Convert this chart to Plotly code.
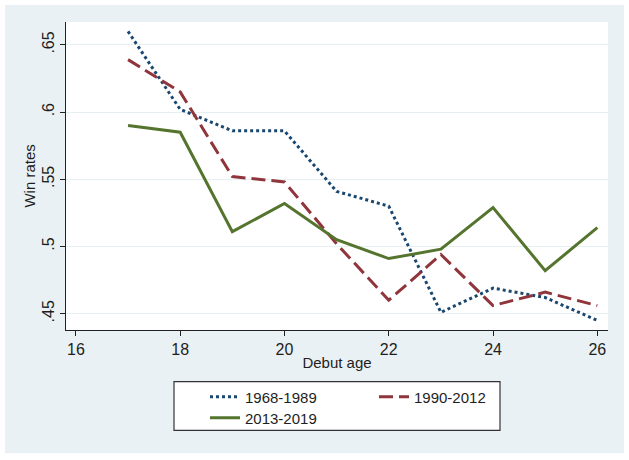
import plotly.graph_objects as go

# ---- data ----
debut_age = [17, 18, 19, 20, 21, 22, 23, 24, 25, 26]
win_1968_1989 = [0.660, 0.602, 0.586, 0.586, 0.541, 0.530, 0.451, 0.469, 0.462, 0.445]
win_1990_2012 = [0.639, 0.615, 0.552, 0.548, 0.502, 0.460, 0.494, 0.456, 0.466, 0.456]
win_2013_2019 = [0.590, 0.585, 0.511, 0.532, 0.505, 0.491, 0.498, 0.529, 0.482, 0.514]
series_names = ["1968-1989", "1990-2012", "2013-2019"]
y_tick_vals = [0.45, 0.50, 0.55, 0.60, 0.65]
y_tick_text = [".45", ".5", ".55", ".6", ".65"]
x_tick_vals = [16, 18, 20, 22, 24, 26]

NAVY = "#1a476f"
MAROON = "#90353b"
GREEN = "#55752f"
FRAME = "#eaf1f4"
GRID = "#e6eff2"
FONT = "Liberation Sans, Arial, sans-serif"
TXT = "#1e1e1e"

W, H = 629, 460
L, R, T, B = 66, 21, 22, 129

fig = go.Figure()
fig.add_trace(go.Scatter(x=debut_age, y=win_1968_1989, mode="lines", name=series_names[0],
                         line=dict(color=NAVY, width=3, dash="dot"), legend="legend"))
fig.add_trace(go.Scatter(x=debut_age, y=win_1990_2012, mode="lines", name=series_names[1],
                         line=dict(color=MAROON, width=3, dash="14px,6px"), legend="legend"))
fig.add_trace(go.Scatter(x=debut_age, y=win_2013_2019, mode="lines", name=series_names[2],
                         line=dict(color=GREEN, width=3), legend="legend2"))

pw = W - L - R
ph = H - T - B

def px_x(p):
    return (p - L) / pw

def px_y(p):
    return (H - B - p) / ph

shapes = [
    # white outer border around the light frame
    dict(type="rect", xref="paper", yref="paper", x0=px_x(0), x1=px_x(W), y0=px_y(H), y1=px_y(0),
         line=dict(color="white", width=10), fillcolor="rgba(0,0,0,0)", layer="above"),
    # legend box
    dict(type="rect", xref="paper", yref="paper", x0=px_x(174), x1=px_x(500), y0=px_y(432), y1=px_y(383),
         line=dict(color="#333333", width=1.2), fillcolor="white", layer="above"),
]

fig.update_layout(
    width=W, height=H,
    margin=dict(l=L, r=R, t=T, b=B, pad=0),
    paper_bgcolor=FRAME,
    plot_bgcolor="white",
    font=dict(family=FONT, size=15, color=TXT),
    shapes=shapes,
    showlegend=True,
    legend=dict(orientation="h", xref="container", yref="container",
                x=205 / W, xanchor="left", y=1 - 397 / H, yanchor="middle",
                bgcolor="rgba(0,0,0,0)", borderwidth=0, entrywidth=124, entrywidthmode="pixels",
                font=dict(family=FONT, size=15, color=TXT), itemwidth=30),
    legend2=dict(orientation="h", xref="container", yref="container",
                 x=205 / W, xanchor="left", y=1 - 418 / H, yanchor="middle",
                 bgcolor="rgba(0,0,0,0)", borderwidth=0,
                 font=dict(family=FONT, size=15, color=TXT), itemwidth=30),
    xaxis=dict(range=[15.81, 26.205], tickvals=x_tick_vals, ticks="outside", ticklen=5,
               tickcolor="#222222", showline=True, linecolor="#222222", linewidth=1,
               showgrid=False, zeroline=False, mirror=False,
               tickfont=dict(size=16),
               title=dict(text="Debut age", standoff=0, font=dict(size=15))),
    yaxis=dict(range=[0.438, 0.667], tickvals=y_tick_vals, ticktext=y_tick_text, tickangle=-90,
               ticks="outside", ticklen=5, tickcolor="#222222", showline=True,
               linecolor="#222222", linewidth=1, showgrid=True, gridcolor=GRID, gridwidth=1,
               tickfont=dict(size=16),
               zeroline=False, title=dict(text="Win rates", standoff=0, font=dict(size=15))),
)

fig.write_html("out.html")
